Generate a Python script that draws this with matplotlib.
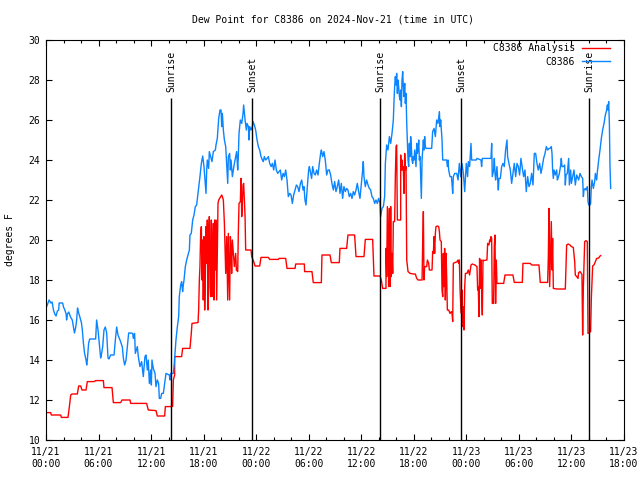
import matplotlib
matplotlib.use("Agg")
import matplotlib.pyplot as plt
from matplotlib.ticker import MultipleLocator

# hours since 2024-11-21 00:00 UTC, dew point in degrees F
obs_hours = [0, 0.15, 0.35, 0.55, 0.7, 0.85, 1.0, 1.15, 1.3, 1.45, 1.5, 1.9, 2.0, 2.15, 2.3, 2.35, 2.45, 2.6, 2.8, 3.0,
             3.1, 3.25, 3.4, 3.5, 3.6, 3.7, 3.9, 4.05, 4.15, 4.27, 4.4, 4.57, 4.65, 4.72, 4.87, 4.99, 5.67, 5.78, 5.94, 6.05,
             6.17, 6.24, 6.32, 6.47, 6.62, 6.77, 6.93, 7.08, 7.19, 7.38, 7.77, 7.92, 8.07, 8.22, 8.45, 8.72, 8.83, 8.98, 9.14, 9.29,
             9.44, 9.6, 9.9, 9.97, 10.12, 10.2, 10.43, 10.54, 10.73, 10.92, 11.11, 11.3, 11.42, 11.57, 11.68, 11.8, 11.95, 12.03, 12.1, 12.25,
             12.45, 12.56, 12.71, 12.86, 12.94, 13.09, 13.21, 13.4, 13.55, 13.7, 14.08, 14.16, 14.23, 14.54, 14.65, 14.84, 15.0, 15.15, 15.22, 15.38,
             15.49, 15.6, 15.68, 15.76, 15.91, 16.06, 16.21, 16.37, 16.44, 16.59, 16.75, 16.9, 17.05, 17.2, 17.36, 17.51, 17.58, 17.74, 17.89, 18.04,
             18.16, 18.27, 18.35, 18.42, 18.57, 18.65, 18.8, 18.95, 19.11, 19.34, 19.41, 19.56, 19.72, 19.87, 19.99, 20.06, 20.14, 20.25, 20.37, 20.52,
             20.63, 20.75, 20.82, 20.97, 21.05, 21.13, 21.28, 21.39, 21.51, 21.66, 21.77, 21.89, 21.96, 22.04, 22.19, 22.35, 22.5, 22.57, 22.73, 22.88,
             22.95, 23.11, 23.18, 23.26, 23.41, 23.56, 23.64, 23.79, 23.94, 24.1, 24.25, 24.4, 24.55, 24.71, 24.82, 24.93, 25.09, 25.24, 25.39, 25.54,
             25.7, 25.85, 26.0, 26.15, 26.3, 26.46, 26.61, 26.76, 26.91, 27.07, 27.22, 27.37, 27.52, 27.67, 27.83, 27.98, 28.13, 28.28, 28.44, 28.59,
             28.74, 28.89, 29.05, 29.2, 29.35, 29.46, 29.57, 29.69, 29.84, 29.99, 30.07, 30.22, 30.33, 30.45, 30.6, 30.75, 30.9, 31.06, 31.21, 31.36,
             31.44, 31.59, 31.74, 31.89, 32.05, 32.2, 32.35, 32.5, 32.65, 32.81, 32.96, 33.11, 33.26, 33.42, 33.57, 33.72, 33.87, 34.02, 34.18, 34.33,
             34.48, 34.63, 34.79, 34.94, 35.09, 35.24, 35.4, 35.55, 35.7, 35.85, 36.0, 36.16, 36.23, 36.31, 36.46, 36.61, 36.77, 36.92, 37.07, 37.22,
             37.37, 37.53, 37.68, 37.83, 37.98, 38.14, 38.21, 38.36, 38.52, 38.67, 38.75, 38.9, 39.05, 39.21, 39.36, 39.51, 39.66, 39.74, 39.81, 39.89,
             39.97, 40.04, 40.12, 40.2, 40.27, 40.35, 40.42, 40.5, 40.58, 40.65, 40.73, 40.8, 40.88, 40.96, 41.03, 41.11, 41.19, 41.26, 41.34, 41.41,
             41.49, 41.57, 41.64, 41.72, 41.79, 41.87, 41.95, 42.02, 42.1, 42.25, 42.33, 42.4, 42.48, 42.56, 42.63, 42.71, 42.78, 42.86, 42.94, 43.01,
             43.09, 43.16, 43.24, 43.32, 43.39, 44.04, 44.15, 44.31, 44.46, 44.61, 44.76, 44.92, 44.99, 45.07, 45.14, 45.22, 45.3, 45.75, 45.83, 45.91,
             45.98, 46.13, 46.29, 46.36, 46.44, 46.51, 46.67, 46.9, 47.05, 47.2, 47.35, 47.5, 47.66, 47.81, 47.99, 48.14, 48.22, 48.37, 48.53, 48.6,
             49.13, 49.21, 49.67, 49.74, 49.82, 50.81, 50.89, 50.96, 51.11, 51.19, 51.27, 51.34, 51.49, 51.65, 51.72, 51.88, 52.03, 52.18, 52.33, 52.48,
             52.64, 52.71, 52.86, 53.02, 53.17, 53.32, 53.47, 53.63, 53.78, 53.93, 54.08, 54.23, 54.39, 54.54, 54.69, 54.84, 55.0, 55.15, 55.3, 55.45,
             55.61, 55.76, 55.91, 56.06, 56.21, 56.37, 56.52, 56.67, 56.82, 56.98, 57.13, 57.28, 57.43, 57.55, 57.7, 57.78, 57.85, 57.93, 58.01, 58.16,
             58.31, 58.39, 58.46, 58.62, 58.77, 58.84, 58.92, 59.07, 59.22, 59.3, 59.38, 59.53, 59.68, 59.76, 59.91, 59.99, 60.14, 60.29, 60.44, 60.6,
             60.75, 60.82, 60.98, 61.13, 61.28, 61.36, 61.43, 61.59, 61.66, 61.81, 61.89, 61.97, 62.12, 62.19, 62.27, 62.35, 62.5, 62.65, 62.73, 62.88,
             62.96, 63.11, 63.26, 63.41, 63.56, 63.72, 63.87, 64.02, 64.1, 64.17, 64.25, 64.33, 64.4, 64.48]
obs_dewpt = [16.6, 16.75, 17.0, 16.85, 16.9, 16.5, 16.3, 16.2, 16.45, 16.5, 16.85, 16.85, 16.65, 16.5, 16.3, 16.0, 16.3, 16.4, 16.15, 16.0,
             15.75, 15.35, 15.65, 16.0, 16.6, 16.4, 16.1, 15.85, 15.5, 14.85, 14.35, 14.0, 13.75, 14.0, 14.85, 15.05, 15.05, 16.0, 15.5, 15.0,
             14.5, 14.1, 14.25, 14.65, 15.5, 15.65, 15.35, 14.1, 14.05, 14.25, 14.25, 15.0, 15.65, 15.25, 15.0, 14.65, 14.1, 13.75, 14.0, 14.65,
             15.35, 15.35, 15.33, 15.08, 15.33, 14.33, 14.67, 14.17, 13.67, 13.92, 13.17, 14.17, 14.25, 13.5, 14.0, 12.83, 13.5, 12.75, 14.0, 13.58,
             13.33, 12.67, 13.0, 12.83, 12.08, 12.08, 12.33, 12.33, 12.83, 13.33, 13.25, 13.0, 13.33, 13.33, 13.83, 15.0, 15.67, 16.17, 17.17, 17.75,
             17.92, 17.42, 17.75, 18.0, 18.67, 19.0, 19.25, 19.5, 20.25, 20.33, 21.0, 21.25, 21.67, 21.75, 22.33, 22.92, 23.17, 23.83, 24.2, 23.67,
             23.0, 22.33, 23.5, 24.0, 23.58, 24.42, 24.17, 23.92, 24.42, 24.5, 24.75, 25.08, 26.08, 26.5, 26.5, 25.67, 26.33, 25.5, 25.0, 24.67,
             23.83, 22.83, 24.17, 24.33, 23.5, 24.0, 23.17, 23.5, 23.83, 24.17, 24.42, 23.5, 24.17, 25.33, 26.0, 25.83, 26.33, 26.75, 26.0, 25.5,
             25.83, 25.67, 25.0, 25.67, 25.5, 25.67, 25.92, 25.75, 25.5, 25.0, 24.67, 24.5, 24.17, 24.0, 23.92, 24.17, 24.0, 24.08, 24.17, 23.83,
             23.67, 23.83, 23.5, 24.0, 23.5, 23.33, 23.42, 23.5, 23.0, 23.33, 23.17, 23.5, 23.0, 22.17, 22.33, 22.25, 21.83, 22.25, 22.5, 22.75,
             22.67, 22.42, 22.83, 23.0, 22.5, 22.67, 22.0, 21.75, 22.67, 23.5, 23.67, 23.33, 23.08, 23.67, 23.33, 23.25, 23.5, 23.25, 23.83, 24.33,
             24.5, 24.17, 24.42, 24.0, 23.25, 23.5, 23.5, 23.25, 22.83, 22.5, 22.92, 22.42, 22.67, 23.0, 22.33, 22.83, 22.08, 22.67, 22.42, 22.58,
             22.5, 22.17, 22.33, 22.08, 22.42, 22.25, 22.5, 22.83, 22.42, 22.08, 22.75, 23.5, 23.92, 23.17, 22.67, 23.0, 22.75, 22.58, 22.5, 22.17,
             22.08, 21.83, 22.0, 21.83, 22.08, 21.83, 21.17, 21.58, 21.67, 22.17, 23.83, 24.75, 24.5, 25.17, 24.83, 25.33, 26.0, 27.0, 27.67, 28.17,
             27.75, 28.33, 27.33, 28.0, 27.67, 27.17, 27.0, 27.5, 26.67, 28.0, 28.42, 27.67, 27.17, 27.83, 26.83, 27.33, 25.83, 25.0, 24.0, 23.67,
             24.83, 24.17, 25.17, 24.67, 24.0, 23.83, 24.17, 24.0, 24.5, 23.67, 24.83, 24.33, 24.5, 25.0, 24.0, 24.17, 23.17, 22.08, 24.0, 24.5,
             25.0, 24.5, 25.17, 24.67, 24.58, 24.58, 25.42, 25.58, 25.17, 26.0, 25.83, 26.42, 25.67, 26.0, 25.5, 25.0, 24.0, 24.0, 23.67, 24.0,
             23.5, 23.17, 23.17, 22.83, 22.33, 23.17, 23.33, 23.33, 23.0, 23.83, 23.17, 23.83, 23.33, 22.42, 23.83, 23.17, 23.92, 23.67, 24.83, 24.0,
             24.0, 24.08, 24.0, 23.67, 24.08, 24.08, 24.83, 23.17, 23.5, 24.08, 23.33, 23.0, 23.67, 22.5, 23.08, 23.08, 23.67, 23.83, 23.67, 24.5,
             25.0, 24.17, 23.83, 23.5, 22.83, 23.33, 23.83, 23.17, 23.83, 23.67, 23.25, 24.08, 23.58, 23.17, 23.5, 22.42, 23.17, 22.67, 22.83, 23.33,
             22.75, 24.33, 24.33, 23.83, 23.5, 23.83, 23.33, 23.67, 24.08, 24.33, 24.67, 24.5, 24.58, 24.58, 24.67, 24.33, 23.5, 23.08, 23.5, 23.25,
             23.5, 23.0, 23.08, 23.33, 23.75, 24.08, 23.67, 23.67, 23.75, 22.75, 23.25, 23.33, 24.08, 22.75, 23.5, 22.83, 23.17, 23.5, 22.75, 23.25,
             23.08, 23.0, 23.33, 23.17, 23.08, 22.17, 22.5, 22.58, 22.5, 22.67, 21.92, 21.75, 21.75, 21.83, 22.67, 23.0, 22.58, 22.92, 23.33, 23.0,
             23.42, 24.0, 24.5, 25.08, 25.5, 25.83, 26.25, 26.5, 26.75, 26.5, 26.92, 25.83, 23.67, 22.58]

ana_hours = [0, 0.53, 0.61, 1.68, 1.75, 2.51, 2.67, 2.82, 2.97, 3.58, 3.73, 3.96, 4.11, 4.57, 4.72, 5.48, 5.67, 6.55, 6.62, 7.54,
             7.69, 8.53, 8.68, 9.59, 9.67, 11.49, 11.68, 12.56, 12.71, 13.55, 13.63, 14.23, 14.31, 14.46, 14.54, 14.69, 14.69, 15.49, 15.6, 16.44,
             16.59, 16.67, 17.36, 17.43, 17.51, 17.58, 17.66, 17.74, 17.81, 17.89, 17.96, 18.04, 18.12, 18.19, 18.27, 18.35, 18.42, 18.5, 18.57, 18.65,
             18.73, 18.8, 18.88, 18.95, 19.03, 19.11, 19.18, 19.26, 19.34, 19.41, 19.49, 19.64, 19.72, 20.06, 20.14, 20.25, 20.37, 20.52, 20.63, 20.75,
             20.82, 20.9, 20.97, 21.05, 21.13, 21.2, 21.28, 21.39, 21.51, 21.66, 21.74, 21.89, 21.96, 22.04, 22.19, 22.27, 22.35, 22.42, 22.5, 22.57,
             22.65, 22.73, 22.8, 23.41, 23.49, 23.72, 23.87, 24.4, 24.55, 25.39, 25.54, 26.53, 26.61, 27.37, 27.52, 28.44, 28.51, 29.5, 29.53, 30.37,
             30.52, 31.44, 31.51, 32.43, 32.58, 33.49, 33.57, 34.33, 34.48, 35.24, 35.4, 36.31, 36.46, 37.3, 37.45, 38.14, 38.29, 38.44, 38.82, 38.83,
             38.9, 38.98, 39.13, 39.21, 39.28, 39.36, 39.43, 39.51, 39.59, 39.66, 39.81, 39.89, 39.97, 40.04, 40.12, 40.5, 40.5, 40.58, 40.65, 40.73,
             40.8, 40.88, 40.96, 41.03, 41.11, 41.19, 41.34, 41.57, 41.95, 42.17, 42.33, 42.48, 42.94, 43.01, 43.09, 43.16, 43.24, 43.47, 43.55, 43.7,
             43.77, 44.08, 44.15, 44.23, 44.31, 44.38, 44.46, 44.53, 44.69, 44.84, 44.92, 44.99, 45.14, 45.22, 45.3, 45.37, 45.45, 45.52, 45.6, 45.68,
             45.75, 45.83, 45.98, 46.13, 46.29, 46.36, 46.44, 46.51, 46.67, 46.9, 47.05, 47.12, 47.2, 47.28, 47.35, 47.43, 47.5, 47.58, 47.66, 47.73,
             47.81, 47.89, 48.07, 48.22, 48.37, 48.53, 48.68, 48.98, 49.21, 49.29, 49.36, 49.44, 49.51, 49.59, 49.67, 49.74, 49.82, 49.9, 49.97, 50.35,
             50.43, 50.58, 50.66, 50.73, 50.81, 50.89, 50.96, 51.11, 51.19, 51.27, 51.34, 51.42, 51.49, 52.26, 52.41, 53.32, 53.47, 54.39, 54.46, 55.3,
             55.45, 56.29, 56.44, 57.28, 57.36, 57.43, 57.51, 57.59, 57.7, 57.78, 57.85, 57.93, 58.31, 59.3, 59.38, 59.45, 59.61, 59.83, 59.99, 60.21,
             60.37, 60.44, 60.6, 60.75, 60.82, 60.98, 61.2, 61.28, 61.36, 61.51, 61.66, 61.81, 61.89, 62.04, 62.19, 62.27, 62.42, 62.57, 62.65, 62.8,
             62.88, 63.11, 63.26, 63.34]
ana_dewpt = [11.37, 11.37, 11.25, 11.25, 11.13, 11.13, 11.67, 12.25, 12.3, 12.3, 12.7, 12.7, 12.5, 12.5, 12.92, 12.92, 12.97, 12.97, 12.62, 12.62,
             11.87, 11.87, 12.0, 12.0, 11.83, 11.83, 11.5, 11.47, 11.2, 11.2, 11.67, 11.67, 11.7, 11.67, 13.0, 13.25, 14.17, 14.17, 14.58, 14.58,
             15.33, 15.83, 15.87, 16.5, 18.0, 18.67, 20.33, 20.67, 18.0, 20.0, 17.0, 20.17, 16.5, 18.0, 20.67, 18.83, 21.0, 16.5, 20.17, 21.17,
             17.67, 17.17, 21.0, 17.17, 19.33, 20.83, 17.0, 21.0, 18.5, 21.0, 17.0, 21.83, 22.0, 22.25, 22.17, 22.0, 20.83, 18.33, 20.17, 17.0,
             20.33, 18.67, 17.0, 20.17, 19.67, 18.33, 20.0, 19.33, 18.67, 19.33, 18.5, 18.42, 20.33, 21.83, 21.92, 23.08, 21.17, 21.83, 22.75, 22.83,
             22.0, 21.17, 19.5, 19.5, 19.17, 18.92, 18.7, 18.7, 19.13, 19.13, 19.03, 19.03, 19.08, 19.08, 18.58, 18.58, 18.8, 18.8, 18.42, 18.42,
             17.87, 17.87, 19.25, 19.25, 18.87, 18.87, 19.58, 19.58, 20.25, 20.25, 19.17, 19.17, 20.03, 20.03, 18.2, 18.2, 18.0, 17.58, 17.58, 19.58,
             18.17, 21.67, 17.67, 21.58, 17.67, 21.67, 18.17, 19.33, 18.33, 20.92, 20.92, 23.17, 24.67, 24.75, 21.0, 21.0, 24.25, 23.5, 24.0, 23.5,
             23.67, 22.33, 24.33, 23.5, 23.67, 19.0, 18.42, 18.33, 18.3, 18.3, 18.08, 18.0, 18.0, 19.75, 21.42, 18.0, 18.67, 18.67, 19.0, 18.83,
             18.5, 18.5, 19.42, 19.33, 20.17, 19.33, 20.33, 20.67, 20.7, 20.67, 20.42, 20.0, 19.92, 17.5, 17.17, 19.33, 17.67, 19.58, 17.0, 19.33,
             18.17, 16.5, 16.5, 16.33, 16.42, 16.33, 15.92, 18.83, 18.87, 18.9, 19.0, 18.83, 19.0, 17.5, 16.83, 16.33, 17.5, 15.67, 16.67, 15.5,
             17.67, 18.33, 18.33, 18.5, 18.25, 18.75, 18.8, 18.75, 18.67, 17.5, 17.67, 16.17, 19.08, 17.58, 19.0, 17.5, 16.25, 19.0, 18.97, 19.0,
             19.83, 19.75, 20.0, 19.92, 20.17, 20.08, 16.83, 16.83, 19.67, 20.25, 16.83, 19.0, 17.83, 17.83, 18.25, 18.25, 17.88, 17.88, 18.83, 18.83,
             18.75, 18.75, 17.88, 17.88, 19.17, 21.58, 17.67, 19.08, 20.92, 18.5, 20.08, 17.58, 17.55, 17.55, 18.67, 19.75, 19.8, 19.75, 19.67, 19.63,
             18.92, 18.25, 18.17, 18.08, 18.37, 18.42, 18.28, 15.25, 17.67, 19.92, 19.97, 19.92, 15.33, 15.37, 15.42, 17.08, 18.7, 18.75, 18.83, 19.0,
             19.08, 19.1, 19.2, 19.22]

sun_hours = [14.27, 23.52, 38.17, 47.42, 62.04]
sun_labels = ["Sunrise", "Sunset", "Sunrise", "Sunset", "Sunrise"]

tick_hours = list(range(0, 67, 6))
tick_labels = ["11/21\n00:00", "11/21\n06:00", "11/21\n12:00", "11/21\n18:00",
               "11/22\n00:00", "11/22\n06:00", "11/22\n12:00", "11/22\n18:00",
               "11/23\n00:00", "11/23\n06:00", "11/23\n12:00", "11/23\n18:00"]

plt.rcParams['font.family'] = ['DejaVu Sans Mono']
plt.rcParams['font.size'] = 7

fig = plt.figure(figsize=(6.4, 4.8), dpi=100)
ax = fig.add_axes([46/640, 40/480, 578/640, 400/480])

ax.plot(ana_hours, ana_dewpt, color="#ff0000", lw=1.0, label="C8386 Analysis")
ax.plot(obs_hours, obs_dewpt, color="#0a84ff", lw=1.0, label="C8386")

for h, lab in zip(sun_hours, sun_labels):
    ax.vlines(h, 10, 27.1, color="black", lw=1.0)
    ax.text(h, 27.4, lab, rotation=90, ha="center", va="bottom")

ax.set_xlim(0, 66)
ax.set_ylim(10, 30)
ax.set_xticks(tick_hours)
ax.set_xticklabels(tick_labels)
ax.xaxis.set_minor_locator(MultipleLocator(2))
ax.set_yticks(range(10, 31, 2))
ax.tick_params(which="both", direction="in", top=True, right=True, width=0.8)
ax.tick_params(which="major", length=4)
ax.tick_params(which="minor", length=2.5)
ax.tick_params(axis="x", pad=5)
ax.tick_params(axis="y", pad=4)
for s in ax.spines.values():
    s.set_linewidth(0.8)

ax.legend(loc="upper right", bbox_to_anchor=(0.976, 0.992), frameon=False,
          markerfirst=False, handlelength=2.9, handletextpad=0.7,
          borderpad=0, borderaxespad=0, labelspacing=0.35)

fig.text(333/640, 1 - 20/480, "Dew Point for C8386 on 2024-Nov-21 (time in UTC)",
         ha="center", va="center")
fig.text(10/640, 0.5, "degrees F", rotation=90, ha="center", va="center")

fig.savefig("out.png", dpi=100)
